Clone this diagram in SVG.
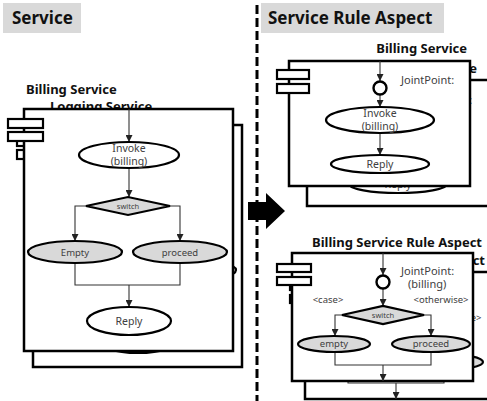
<svg xmlns="http://www.w3.org/2000/svg" xmlns:xlink="http://www.w3.org/1999/xlink" width="487" height="401" viewBox="0 0 487 401">
  <style>
    .title { font-family: "Noto Sans", "Noto Sans CJK KR", sans-serif; font-weight: bold; font-size: 17px; fill: #111; }
    .head { font-family: "Noto Sans", "Noto Sans CJK KR", sans-serif; font-weight: bold; font-size: 13px; fill: #111; }
    .lbl { font-family: "Noto Sans", "Noto Sans CJK KR", sans-serif; font-size: 10.5px; fill: #404040; text-anchor: middle; }
    .sm { font-family: "Noto Sans", "Noto Sans CJK KR", sans-serif; font-size: 9.5px; fill: #404040; text-anchor: middle; }
    .xs { font-family: "Noto Sans", "Noto Sans CJK KR", sans-serif; font-size: 7.5px; fill: #404040; text-anchor: middle; }
    .note { font-family: "Noto Sans", "Noto Sans CJK KR", sans-serif; font-size: 11px; fill: #404040; }
    .box { fill: #fff; stroke: #000; stroke-width: 2.5; }
    .ico { fill: #fff; stroke: #000; stroke-width: 2.2; }
    .act { fill: #fff; stroke: #000; stroke-width: 2.2; }
    .dec { fill: #d9d9d9; stroke: #000; stroke-width: 2.2; }
    .pt { fill: #fff; stroke: #000; stroke-width: 2.4; }
    .edge { fill: none; stroke: #333; stroke-width: 1.1; }
    .arr { marker-end: url(#ah); }
  </style>
  <defs>
    <marker id="ah" viewBox="0 0 8 8" refX="8" refY="4" markerWidth="7" markerHeight="7" markerUnits="userSpaceOnUse" orient="auto">
      <path d="M0,0 L8,4 L0,8 z" fill="#222"/>
    </marker>
  </defs>

  <!-- section headers -->
  <rect x="3" y="3" width="78" height="30" fill="#d9d9d9"/>
  <text class="title" x="12" y="24">Service</text>
  <rect x="261" y="3" width="183" height="30" fill="#d9d9d9"/>
  <text class="title" x="268" y="24">Service Rule Aspect</text>

  <!-- section divider and transformation arrow -->
  <line x1="257" y1="5" x2="257" y2="401" stroke="#000" stroke-width="3" stroke-dasharray="9 4"/>
  <polygon points="248,202 266,202 266,193 285,211 266,229 266,220 248,220" fill="#000"/>

  <!-- ===== Service: stacked components ===== -->
  <g id="logging-service">
    <text class="head" x="50" y="111">Logging Service</text>
    <rect class="box" x="33" y="125" width="209" height="242"/>
    <use xlink:href="#svc-icon" transform="translate(9,18)"/>
    <use xlink:href="#svc-flow" transform="translate(9,18)"/>
  </g>
  <g id="billing-service">
    <text class="head" x="26" y="94">Billing Service</text>
    <rect class="box" x="24" y="109" width="209" height="242"/>
    <g id="svc-icon">
      <rect class="ico" x="8" y="119" width="35" height="9"/>
      <rect class="ico" x="8" y="132" width="35" height="9"/>
    </g>
    <g id="svc-flow">
      <g id="svc-connectors">
        <path class="edge arr" d="M129,109 V142"/>
        <path class="edge arr" d="M129,168 V197"/>
        <path class="edge arr" d="M86,206 H75 V241"/>
        <path class="edge arr" d="M170,206 H180 V241"/>
        <path class="edge" d="M75,263 V285 H180 V263"/>
        <path class="edge arr" d="M129,285 V307"/>
      </g>
      <g id="svc-invoke">
        <ellipse class="act" cx="129" cy="155" rx="50" ry="13"/>
        <text class="lbl" x="129" y="151.5">Invoke</text>
        <text class="lbl" x="129" y="164.5">(billing)</text>
      </g>
      <g id="svc-switch">
        <polygon class="dec" points="86,206 128,197 170,206 128,215"/>
        <text class="xs" x="128" y="208.5">switch</text>
      </g>
      <g id="svc-empty">
        <ellipse class="dec" cx="75" cy="252" rx="47" ry="11"/>
        <text class="sm" x="75" y="256">Empty</text>
      </g>
      <g id="svc-proceed">
        <ellipse class="dec" cx="180" cy="252" rx="47" ry="11"/>
        <text class="sm" x="180" y="256">proceed</text>
      </g>
      <g id="svc-reply">
        <ellipse class="act" cx="129" cy="321" rx="42" ry="14"/>
        <text class="lbl" x="129" y="325">Reply</text>
      </g>
    </g>
  </g>

  <!-- ===== Service Rule Aspect: woven service ===== -->
  <g id="logging-aspect">
    <text class="head" x="477" y="73" text-anchor="end">Logging Service</text>
    <rect class="box" x="307" y="80" width="190" height="126"/>
    <use xlink:href="#asp-flow" transform="translate(18,20)"/>
  </g>
  <g id="billing-aspect">
    <text class="head" x="467" y="53" text-anchor="end">Billing Service</text>
    <rect class="box" x="289" y="61" width="181" height="125"/>
    <g id="asp-icon">
      <rect class="ico" x="277" y="70" width="32" height="9"/>
      <rect class="ico" x="277" y="84" width="32" height="9"/>
    </g>
    <g id="asp-flow">
      <g id="asp-connectors">
        <path class="edge arr" d="M380,61 V81"/>
        <path class="edge arr" d="M380,94.5 V107"/>
        <path class="edge arr" d="M380,133 V155"/>
      </g>
      <g id="asp-joinpoint">
        <circle class="pt" cx="380" cy="88" r="6.5"/>
        <text class="note" x="401" y="84">JointPoint:</text>
      </g>
      <g id="asp-invoke">
        <ellipse class="act" cx="380" cy="120" rx="54" ry="13"/>
        <text class="lbl" x="380" y="116.5">Invoke</text>
        <text class="lbl" x="380" y="129.5">(billing)</text>
      </g>
      <g id="asp-reply">
        <ellipse class="act" cx="380" cy="164" rx="49" ry="9"/>
        <text class="lbl" x="380" y="168">Reply</text>
      </g>
    </g>
  </g>

  <!-- ===== Service Rule Aspect: rule aspect ===== -->
  <g id="logging-rule-aspect">
    <text class="head" x="485" y="265" text-anchor="end">Logging Service Rule Aspect</text>
    <rect class="box" x="305" y="272" width="190" height="127"/>
    <use xlink:href="#rule-icon" transform="translate(13,18)"/>
    <use xlink:href="#rule-flow" transform="translate(13,18)"/>
  </g>
  <g id="billing-rule-aspect">
    <text class="head" x="482" y="247" text-anchor="end">Billing Service Rule Aspect</text>
    <rect class="box" x="292" y="253" width="181" height="128"/>
    <g id="rule-icon">
      <rect class="ico" x="277" y="264" width="34" height="8"/>
      <rect class="ico" x="277" y="277" width="34" height="8"/>
    </g>
    <g id="rule-flow">
      <g id="rule-connectors">
        <path class="edge arr" d="M383,253 V275"/>
        <path class="edge arr" d="M383,288.5 V306"/>
        <path class="edge arr" d="M342,315 H335 V336"/>
        <path class="edge arr" d="M424,315 H431 V336"/>
        <path class="edge" d="M335,352 V365 H431 V352"/>
        <path class="edge arr" d="M383,365 V381"/>
      </g>
      <g id="rule-joinpoint">
        <circle class="pt" cx="383" cy="282" r="6.5"/>
        <text class="note" x="401" y="275">JointPoint:</text>
        <text class="note" x="408" y="287.5" font-size="10.5">(billing)</text>
      </g>
      <g id="rule-switch">
        <polygon class="dec" points="342,315 383,306 424,315 383,324"/>
        <text class="xs" x="383" y="317.5" font-size="7">switch</text>
        <text class="sm" x="328" y="303" font-size="9">&lt;case&gt;</text>
        <text class="sm" x="441" y="303" font-size="9">&lt;otherwise&gt;</text>
      </g>
      <g id="rule-empty">
        <ellipse class="dec" cx="334" cy="344" rx="36" ry="8"/>
        <text class="sm" x="334" y="347">empty</text>
      </g>
      <g id="rule-proceed">
        <ellipse class="dec" cx="431" cy="344" rx="39" ry="8"/>
        <text class="sm" x="431" y="347">proceed</text>
      </g>
    </g>
  </g>
</svg>
